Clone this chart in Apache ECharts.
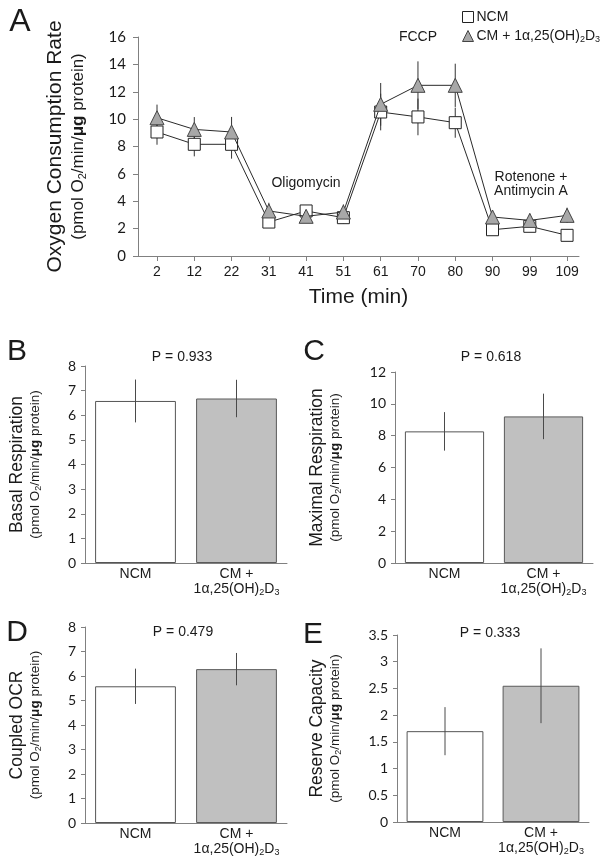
<!DOCTYPE html>
<html><head><meta charset="utf-8">
<script src="https://cdn.jsdelivr.net/npm/echarts@6/dist/echarts.min.js"></script>
<style>html,body{margin:0;padding:0;background:#fff}#c{width:604px;height:864px}</style>
</head><body><div id="c"></div><script>
// ---------- DATA ----------
const timeLabels = ['2','12','22','31','41','51','61','70','80','90','99','109'];
const ncmOCR    = [9.06,8.16,8.16,2.48,3.29,2.80,10.52,10.16,9.74,1.92,2.17,1.51];
const ncmOCRErr = [0.93,0.88,1.05,0.30,0.40,0.44,1.34,1.34,1.10,0.30,0.42,0.41];
const cmOCR     = [10.10,9.25,9.06,3.29,2.90,3.21,11.08,12.47,12.47,2.85,2.60,2.97];
const cmOCRErr  = [0.96,0.90,1.10,0.60,0.42,0.56,1.56,1.75,1.58,0.50,0.50,0.56];
const groups = ['NCM', 'CM + 1α,25(OH)2D3'];
const basal = [6.58, 6.68],   basalErr = [0.87, 0.76];
const maximal = [8.27, 9.21], maximalErr = [1.21, 1.43];
const coupled = [5.58, 6.28], coupledErr = [0.72, 0.66];
const reserve = [1.70, 2.55], reserveErr = [0.45, 0.70];
const pValues = ['P = 0.933', 'P = 0.618', 'P = 0.479', 'P = 0.333'];

// ---------- STYLE ----------
const ARIAL = '"Liberation Sans", Arial, sans-serif';
const TICKF = 'Lato, "Liberation Sans", sans-serif';
const AXC = '#808080';
const TXT = '#1a1a1a';
const subRich = {
  m:  {fontSize: 17.5, fontFamily: ARIAL, color: TXT, lineHeight: 20},
  s:  {fontSize: 13.5, fontFamily: ARIAL, color: TXT, lineHeight: 16},
  sub:{fontSize: 9, fontFamily: ARIAL, color: TXT, lineHeight: 16, verticalAlign: 'bottom', padding:[6,0,0,0]},
  sb: {fontSize: 13.5, fontFamily: ARIAL, color: TXT, lineHeight: 16, fontWeight: 'bold'}
};
function yName(main) {
  return '{m|' + main + '}\n{s|(pmol O}{sub|2}{s|/min/}{sb|μg}{s| protein)}';
}
function errRender(color) {
  return function (params, api) {
    const x = api.value(0), lo = api.value(1), hi = api.value(2);
    const p1 = api.coord([x, lo]), p2 = api.coord([x, hi]);
    return {type: 'line', shape: {x1: p1[0], y1: p1[1], x2: p2[0], y2: p2[1]},
            style: {stroke: color, lineWidth: 1}};
  };
}
const idx = timeLabels.map((_, i) => i);

// ---------- PANEL A ----------
const grids = [
  {left: 138, top: 37, width: 441, height: 219},
  {left: 85, top: 366, width: 202, height: 197},
  {left: 395, top: 372, width: 198, height: 191},
  {left: 85, top: 627, width: 202, height: 196},
  {left: 397, top: 635, width: 192, height: 187}
];
const xAxes = [{
  gridIndex: 0, type: 'value', min: -0.51, max: 11.32,
  axisLine: {onZero: false, lineStyle: {color: AXC}},
  axisTick: {customValues: idx, length: 5, lineStyle: {color: AXC}},
  axisLabel: {customValues: idx, formatter: v => timeLabels[Math.round(v)], fontFamily: ARIAL, fontSize: 14, color: TXT, margin: 9},
  splitLine: {show: false},
  name: 'Time (min)', nameLocation: 'middle', nameGap: 31,
  nameTextStyle: {fontFamily: ARIAL, fontSize: 21, color: TXT}
}];
const yAxes = [{
  gridIndex: 0, type: 'value', min: 0, max: 16, interval: 2,
  axisLine: {show: true, onZero: false, lineStyle: {color: AXC}},
  axisTick: {show: true, length: 5, lineStyle: {color: AXC}},
  axisLabel: {fontFamily: TICKF, fontSize: 15, color: TXT, margin: 12},
  splitLine: {show: false},
  name: '{m|Oxygen Consumption Rate}\n{s|(pmol O}{sub|2}{s|/min/}{sb|μg}{s| protein)}',
  nameLocation: 'middle', nameRotate: 90, nameGap: 50,
  nameTextStyle: {rich: {
    m: {fontSize: 21, fontFamily: ARIAL, color: TXT, lineHeight: 26},
    s: {fontSize: 17, fontFamily: ARIAL, color: TXT, lineHeight: 20},
    sub: {fontSize: 11, fontFamily: ARIAL, color: TXT, lineHeight: 20, verticalAlign: 'bottom', padding: [7,0,0,0]},
    sb: {fontSize: 17, fontFamily: ARIAL, color: TXT, lineHeight: 20, fontWeight: 'bold'}
  }}
}];

const series = [
  {type: 'custom', xAxisIndex: 0, yAxisIndex: 0, z: 1, renderItem: errRender('#333'),
   encode: {x: 0, y: [1, 2]},
   data: ncmOCR.map((v, i) => [i, v - ncmOCRErr[i], v + ncmOCRErr[i]])},
  {type: 'custom', xAxisIndex: 0, yAxisIndex: 0, z: 1, renderItem: errRender('#333'),
   encode: {x: 0, y: [1, 2]},
   data: cmOCR.map((v, i) => [i, v - cmOCRErr[i], v + cmOCRErr[i]])},
  {name: 'NCM', type: 'line', xAxisIndex: 0, yAxisIndex: 0, z: 3,
   data: ncmOCR.map((v, i) => [i, v]),
   symbol: 'rect', symbolSize: 12, showAllSymbol: true,
   lineStyle: {color: '#2a2a2a', width: 1},
   itemStyle: {color: '#ffffff', borderColor: '#222', borderWidth: 1}},
  {name: 'CM', type: 'line', xAxisIndex: 0, yAxisIndex: 0, z: 4,
   data: cmOCR.map((v, i) => [i, v]),
   symbol: 'triangle', symbolSize: 14, showAllSymbol: true,
   lineStyle: {color: '#2a2a2a', width: 1},
   itemStyle: {color: '#a8a8a8', borderColor: '#444', borderWidth: 1}}
];

// ---------- BAR PANELS ----------
const barPanels = [
  {g: 1, vals: basal, errs: basalErr, max: 8, interval: 1, title: 'Basal Respiration', gap: 42},
  {g: 2, vals: maximal, errs: maximalErr, max: 12, interval: 2, title: 'Maximal Respiration', gap: 52},
  {g: 3, vals: coupled, errs: coupledErr, max: 8, interval: 1, title: 'Coupled OCR', gap: 42},
  {g: 4, vals: reserve, errs: reserveErr, max: 3.5, interval: 0.5, title: 'Reserve Capacity', gap: 54}
];
const catRich = {
  t: {fontFamily: ARIAL, fontSize: 14, color: TXT, lineHeight: 15},
  s: {fontFamily: ARIAL, fontSize: 9, color: TXT, lineHeight: 15, verticalAlign: 'bottom', padding: [5,0,0,0]}
};
barPanels.forEach(p => {
  xAxes.push({
    gridIndex: p.g, type: 'category', data: groups,
    axisLine: {lineStyle: {color: AXC}}, axisTick: {show: false},
    axisLabel: {margin: 4, interval: 0, rich: catRich,
      formatter: v => v === 'NCM' ? '{t|NCM}' : '{t|CM +}\n{t|1α,25(OH)}{s|2}{t|D}{s|3}'}
  });
  yAxes.push({
    gridIndex: p.g, type: 'value', min: 0, max: p.max, interval: p.interval,
    axisLine: {show: true, lineStyle: {color: AXC}},
    axisTick: {show: true, length: 4, lineStyle: {color: AXC}},
    axisLabel: {fontFamily: TICKF, fontSize: 14, color: TXT, margin: 9},
    splitLine: {show: false},
    name: yName(p.title), nameLocation: 'middle', nameRotate: 90, nameGap: p.gap,
    nameTextStyle: {rich: subRich}
  });
  const ai = xAxes.length - 1;
  series.push({
    type: 'bar', xAxisIndex: ai, yAxisIndex: ai, barCategoryGap: '20%', z: 2,
    data: p.vals.map((v, i) => ({value: v, itemStyle: i === 0
      ? {color: '#ffffff', borderColor: '#555', borderWidth: 1}
      : {color: '#c0c0c0', borderColor: '#5a5a5a', borderWidth: 1}}))
  });
  series.push({
    type: 'custom', xAxisIndex: ai, yAxisIndex: ai, z: 5, renderItem: errRender('#4a4a4a'),
    encode: {x: 0, y: [1, 2]},
    data: p.vals.map((v, i) => [i, v - p.errs[i], v + p.errs[i]])
  });
});

// ---------- TEXT ----------
function txt(x, y, text, size, align, extra) {
  return Object.assign({type: 'text', x: x, y: y,
    style: {text: text, fontFamily: ARIAL, fontSize: size, fill: TXT, align: align || 'center', verticalAlign: 'middle'}}, extra || {});
}
const graphics = [
  txt(20, 22, 'A', 32),
  txt(17, 352, 'B', 30),
  txt(314, 352, 'C', 30),
  txt(17, 633, 'D', 30),
  txt(313, 635, 'E', 30),
  txt(418, 37, 'FCCP', 14),
  txt(306, 183, 'Oligomycin', 14),
  txt(531, 177, 'Rotenone +', 14),
  txt(531, 191, 'Antimycin A', 14),
  txt(182, 357, pValues[0], 14),
  txt(491, 357, pValues[1], 14),
  txt(183, 632, pValues[2], 14),
  txt(490, 633, pValues[3], 14)
];

const chart = echarts.init(document.getElementById('c'), null, {renderer: 'canvas'});
chart.setOption({
  backgroundColor: '#ffffff',
  animation: false,
  grid: grids,
  xAxis: xAxes,
  yAxis: yAxes,
  legend: {
    orient: 'vertical', left: 457, top: 5, itemGap: 5, itemWidth: 11, itemHeight: 11,
    data: [
      {name: 'NCM', icon: 'rect', itemStyle: {color: '#fff', borderColor: '#222', borderWidth: 1}},
      {name: 'CM', icon: 'triangle', itemStyle: {color: '#a8a8a8', borderColor: '#444', borderWidth: 1}}
    ],
    formatter: n => n === 'NCM' ? '{t|NCM}' : '{t|CM + 1α,25(OH)}{s|2}{t|D}{s|3}',
    textStyle: {padding: [0,0,0,-2], rich: {
      t: {fontFamily: ARIAL, fontSize: 14, color: TXT, lineHeight: 16},
      s: {fontFamily: ARIAL, fontSize: 9, color: TXT, lineHeight: 16, verticalAlign: 'bottom', padding: [5,0,0,0]}
    }}
  },
  graphic: graphics,
  series: series
});
</script></body></html>
